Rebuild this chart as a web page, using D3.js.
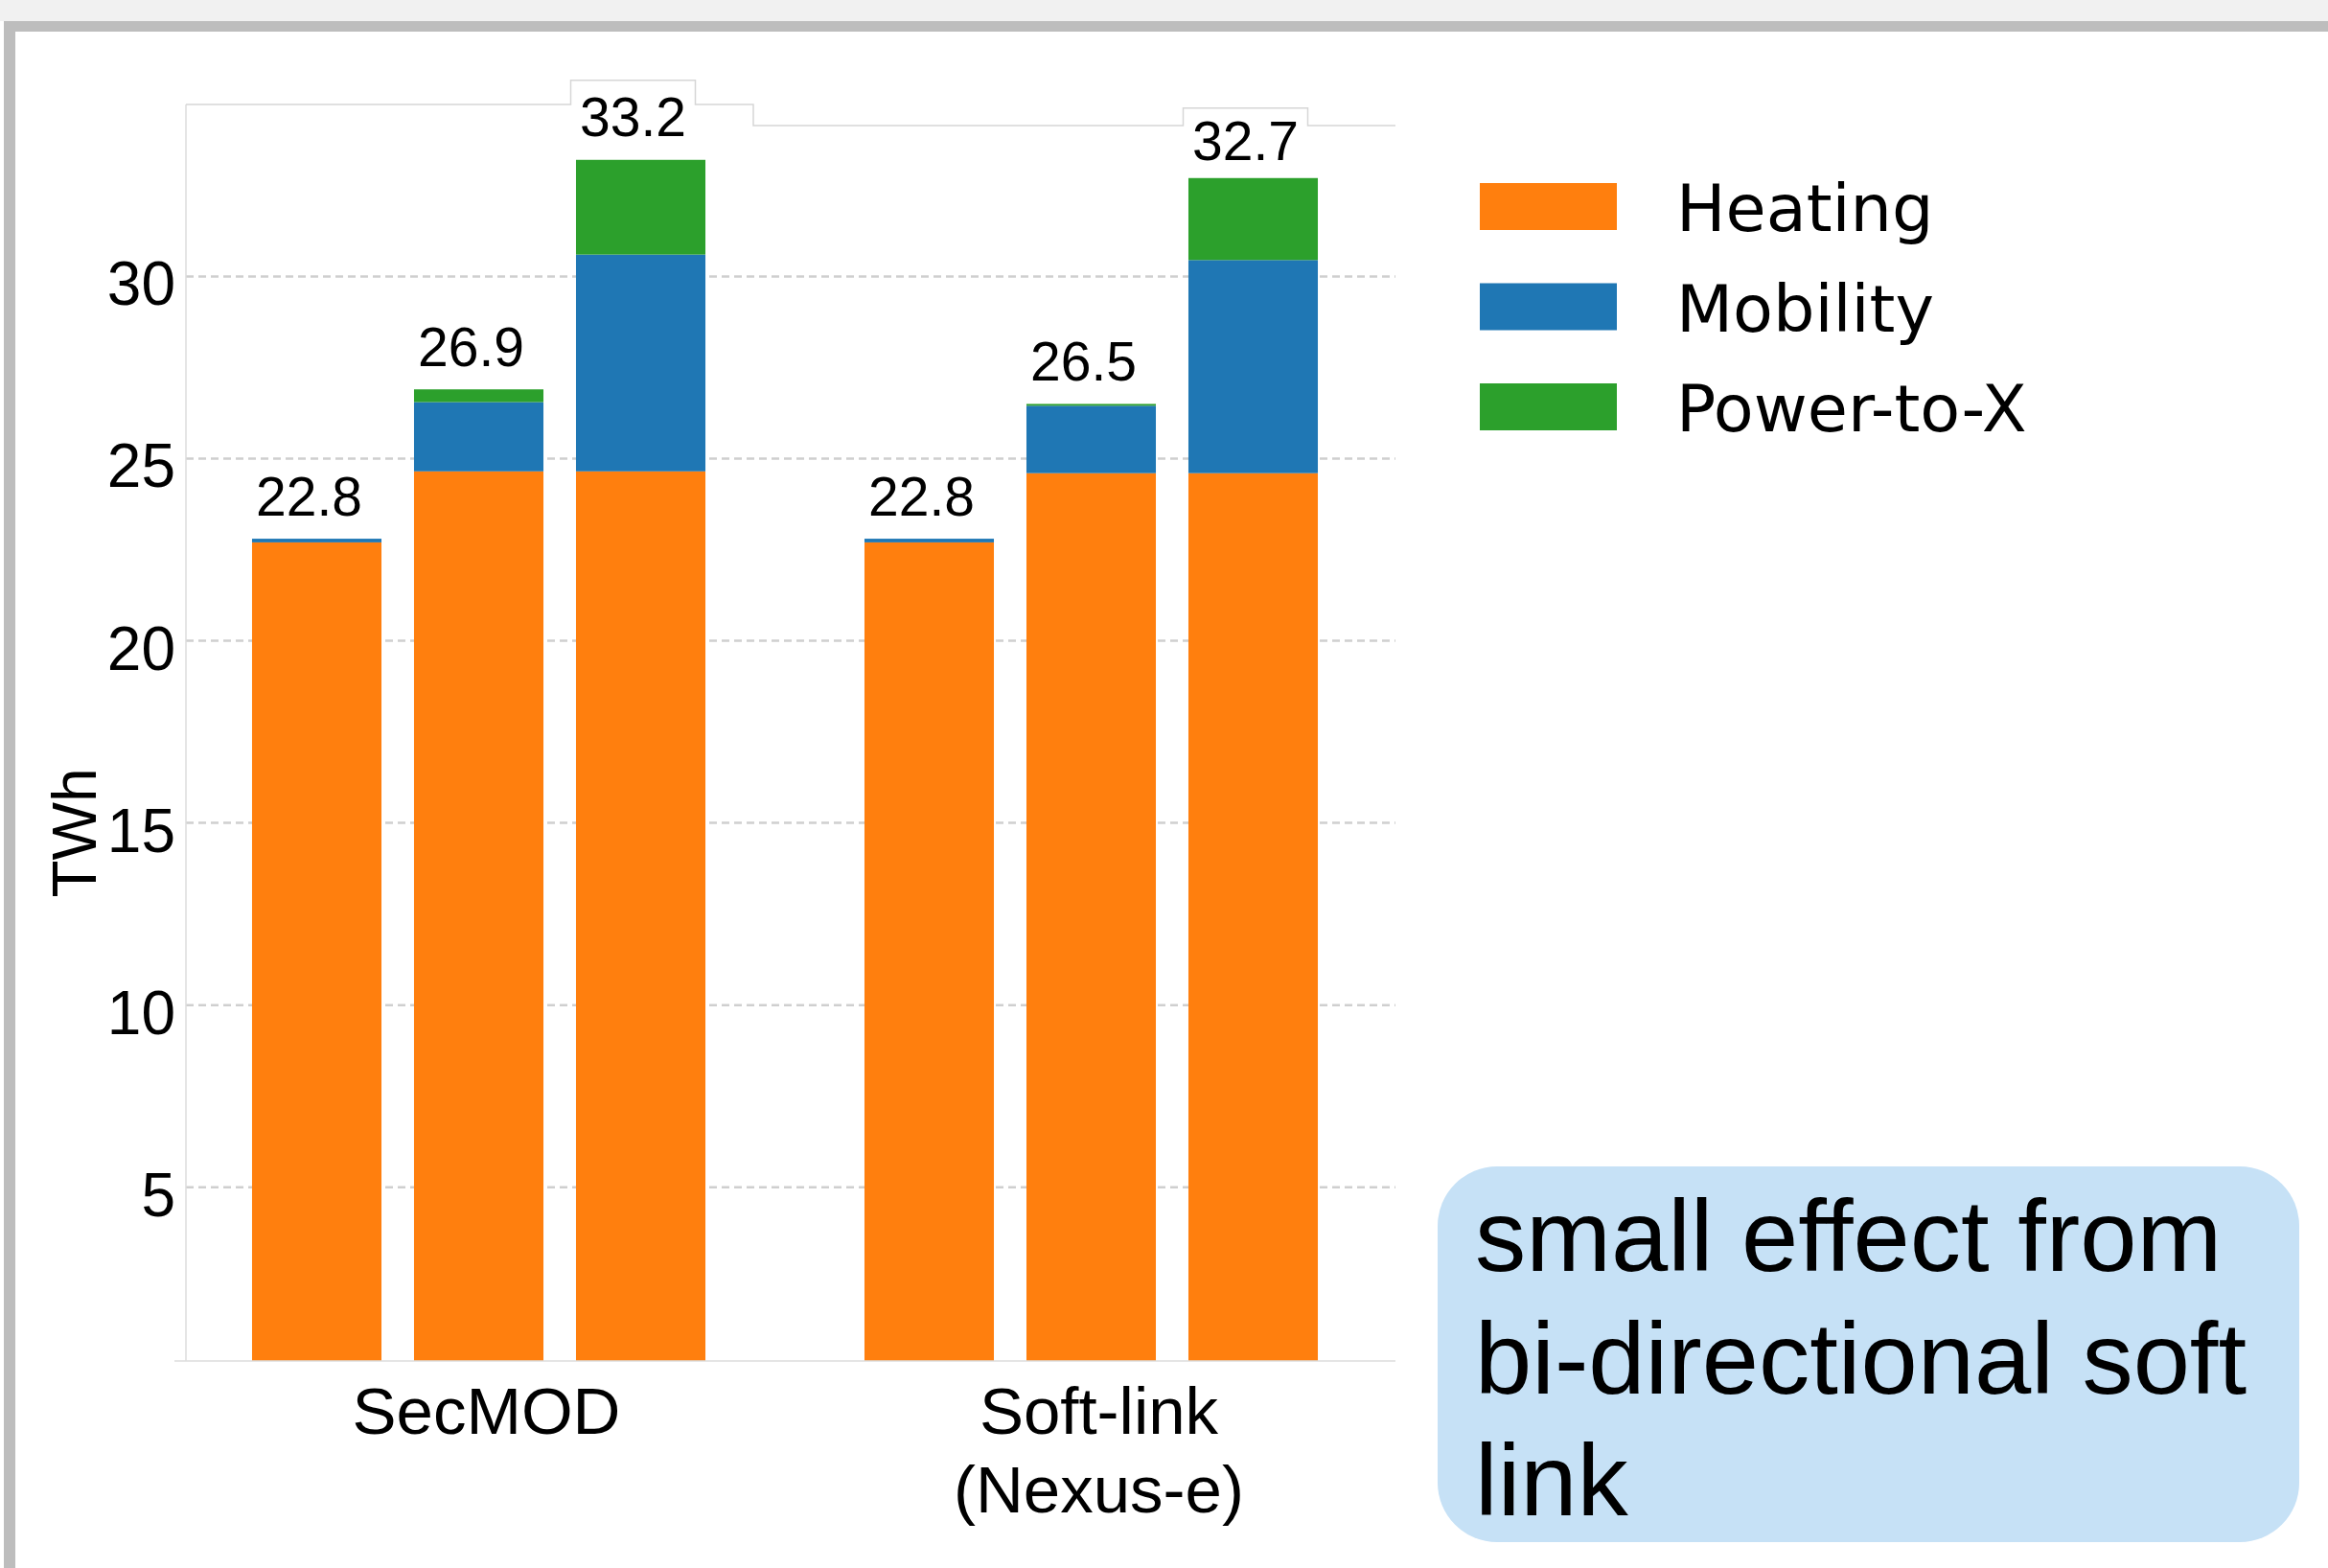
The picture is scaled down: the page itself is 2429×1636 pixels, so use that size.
<!DOCTYPE html>
<html>
<head>
<script src="https://cdn.jsdelivr.net/npm/d3@7"></script>
<style>
    body{ margin:0; background:#fff; }
    text{ font-family:"Liberation Sans", Arial, sans-serif; }
</style>
</head>
<body>
<div id="chart"></div>
<script>

    // data
    var groups = ["SecMOD", "Soft-link (Nexus-e)"]
    var groupLines = [["SecMOD"], ["Soft-link", "(Nexus-e)"]]
    var scenarios = [0, 1, 2]
    var heating  = [22.7, 24.65, 24.65, 22.7, 24.6, 24.6]
    var mobility = [0.1, 1.9, 5.95, 0.1, 1.85, 5.85]
    var powerToX = [0, 0.35, 2.6, 0, 0.05, 2.25]
    var totals   = ["22.8", "26.9", "33.2", "22.8", "26.5", "32.7"]
    var seriesNames = ["Heating", "Mobility", "Power-to-X"]
    var seriesColors = ["#ff7f0e", "#1f77b4", "#2ca02c"]
    var yTicks = [5, 10, 15, 20, 25, 30]
    var noteLines = ["small effect from", "bi-directional soft", "link"]

    var W = 2429, H = 1636

    var rows = heating.map(function(h, i){
        return {group: groups[Math.floor(i/3)], scen: i % 3,
                "Heating": h, "Mobility": mobility[i], "Power-to-X": powerToX[i], total: totals[i]}
    })

    var svg = d3.select("#chart").append("svg")
        .attr("width", W).attr("height", H)

    // slide frame (title strip cut off at the top)
    svg.append("rect").attr("x",0).attr("y",0).attr("width",W).attr("height",22).attr("fill","#f1f1f1")
    svg.append("rect").attr("x",4).attr("y",22).attr("width",W-4).attr("height",11).attr("fill","#bdbdbd")
    svg.append("rect").attr("x",4).attr("y",22).attr("width",12).attr("height",H-22).attr("fill","#bdbdbd")

    var x0 = d3.scaleBand().domain(groups).range([180, 1458]).padding(0)
    var x1 = d3.scaleBand().domain(scenarios).range([0, x0.bandwidth()])
        .paddingInner(0.201).paddingOuter(0.491)
    var y = d3.scaleLinear().domain([0.23, 34.72]).range([1420, 109]).clamp(true)

    var plotLeft = 194, plotRight = 1456

    // gridlines
    svg.append("g").selectAll("line").data(yTicks).enter().append("line")
        .attr("x1", plotLeft).attr("x2", plotRight)
        .attr("y1", function(d){return y(d)}).attr("y2", function(d){return y(d)})
        .attr("stroke", "#cfcfcf").attr("stroke-width", 2.5).attr("stroke-dasharray", "8,5")

    // bars
    var stack = d3.stack().keys(seriesNames)(rows)
    svg.append("g").selectAll("g").data(stack).enter().append("g")
        .attr("fill", function(d, i){return seriesColors[i]})
        .selectAll("rect").data(function(d){return d}).enter().append("rect")
        .attr("x", function(d){return x0(d.data.group) + x1(d.data.scen)})
        .attr("width", x1.bandwidth())
        .attr("y", function(d){return y(d[1])})
        .attr("height", function(d){return Math.max(0, y(d[0]) - y(d[1]))})

    // spines
    svg.append("line").attr("x1", plotLeft).attr("x2", plotLeft).attr("y1", y(34.72)).attr("y2", y.range()[0])
        .attr("stroke", "#dddddd").attr("stroke-width", 1.5)
    svg.append("line").attr("x1", 182).attr("x2", plotRight).attr("y1", y.range()[0]).attr("y2", y.range()[0])
        .attr("stroke", "#dddddd").attr("stroke-width", 1.5)

    // odd stepped top edge with boxes around the two highest labels
    var lab = function(i){ return x0(rows[i].group) + x1(rows[i].scen) + x1.bandwidth()/2 - 8 }
    var labGap = [24, 24, 25, 24, 24, 19]
    var stepX = x0(groups[1]) - 33
    var topA = y(34.72), topB = y(34.14)
    var boxA = y(33.2) - 83, boxB = y(32.7) - 73
    var edge = d3.path()
    edge.moveTo(plotLeft, topA)
    edge.lineTo(lab(2) - 65, topA); edge.lineTo(lab(2) - 65, boxA)
    edge.lineTo(lab(2) + 65, boxA); edge.lineTo(lab(2) + 65, topA)
    edge.lineTo(stepX, topA); edge.lineTo(stepX, topB)
    edge.lineTo(lab(5) - 65, topB); edge.lineTo(lab(5) - 65, boxB)
    edge.lineTo(lab(5) + 65, boxB); edge.lineTo(lab(5) + 65, topB)
    edge.lineTo(plotRight, topB)
    svg.append("path").attr("d", edge.toString()).attr("fill","none")
        .attr("stroke","#d6d6d6").attr("stroke-width",1.5)

    // total labels
    svg.append("g").selectAll("text").data(rows).enter().append("text")
        .attr("x", function(d, i){return lab(i)})
        .attr("y", function(d, i){return y(d["Heating"] + d["Mobility"] + d["Power-to-X"]) - labGap[i]})
        .attr("text-anchor", "middle").attr("font-size", 57).attr("fill", "#000")
        .text(function(d){return d.total})

    // y tick labels
    svg.append("g").selectAll("text").data(yTicks).enter().append("text")
        .attr("x", 183).attr("y", function(d){return y(d) + 30})
        .attr("text-anchor", "end").attr("font-size", 64).attr("fill", "#000")
        .text(function(d){return d})

    svg.append("text").attr("transform", "translate(100,869) rotate(-90)")
        .attr("text-anchor", "middle").attr("font-size", 64).text("TWh")

    // x labels
    groupLines.forEach(function(lines, g){
        lines.forEach(function(t, j){
            svg.append("text").attr("x", x0(groups[g]) + x0.bandwidth()/2 + 8)
                .attr("y", 1496 + j*82).attr("text-anchor", "middle")
                .attr("font-size", 69).text(t)
        })
    })

    // legend
    var legend = svg.append("g").attr("transform", "translate(1544,191)")
    seriesNames.forEach(function(s, i){
        legend.append("rect").attr("x", 0).attr("y", i*104.5).attr("width", 143).attr("height", 49)
            .attr("fill", seriesColors[i])
        legend.append("text").attr("x", 205).attr("y", i*104.5 + 50)
            .attr("font-size", 68.5).style("font-family", "'DejaVu Sans', sans-serif").text(s)
    })

    // note box
    svg.append("rect").attr("x", 1500).attr("y", 1217).attr("width", 899).attr("height", 392)
        .attr("rx", 62).attr("ry", 62).attr("fill", "#c6e1f6")
    noteLines.forEach(function(t, i){
        svg.append("text").attr("x", 1539).attr("y", 1326 + i*127.5)
            .attr("font-size", 106.5).attr("fill", "#000").text(t)
    })

</script>
</body>
</html>
